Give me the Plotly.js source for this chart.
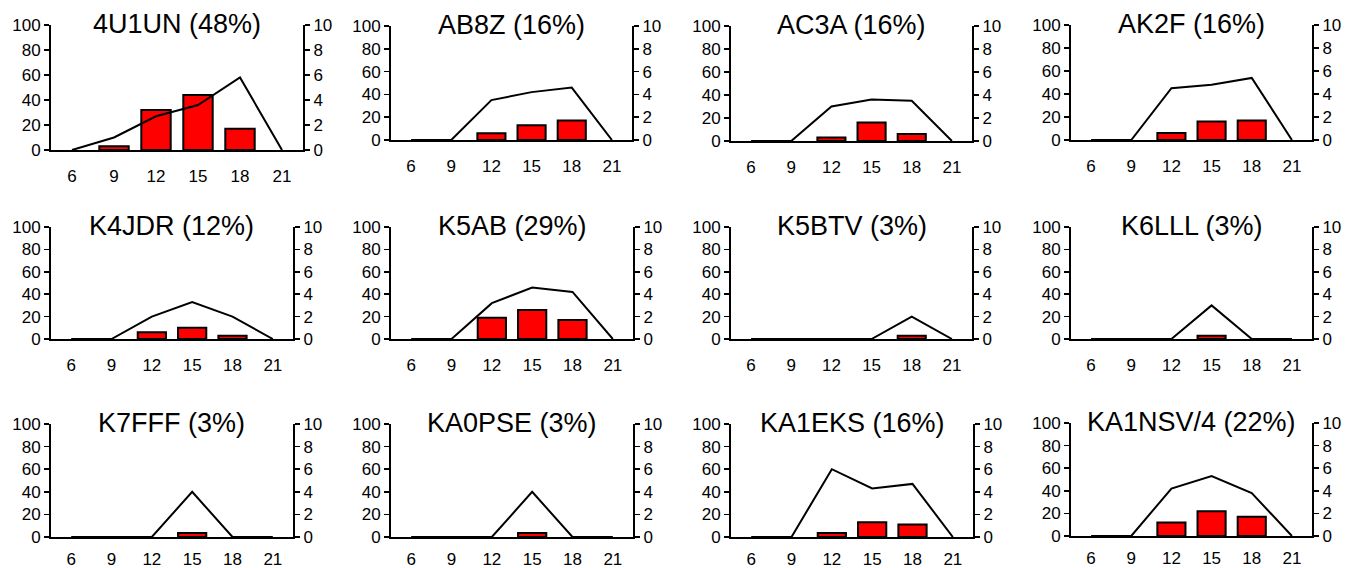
<!DOCTYPE html>
<html>
<head>
<meta charset="utf-8">
<script src="https://cdn.plot.ly/plotly-3.0.1.min.js"></script>
<style>html,body{margin:0;padding:0;background:#fff;}#chart{width:1347px;height:568px;}</style>
</head>
<body>
<div id="chart"></div>
<script>
// ---- data ----
const hours = [6, 9, 12, 15, 18, 21];
const xTickLabels = ['6', '9', '12', '15', '18', '21'];
const leftTicks = [0, 20, 40, 60, 80, 100];
const rightTicks = [0, 2, 4, 6, 8, 10];

const stations = ['4U1UN', 'AB8Z', 'AC3A', 'AK2F', 'K4JDR', 'K5AB', 'K5BTV', 'K6LLL', 'K7FFF', 'KA0PSE', 'KA1EKS', 'KA1NSV/4'];
const stationPercents = [48, 16, 16, 16, 12, 29, 3, 3, 3, 3, 16, 22];

// bar values (left axis, 0-100)
const bars4U1UN  = [0, 3, 32, 44, 17, 0];
const barsAB8Z   = [0, 0, 6, 13, 17, 0];
const barsAC3A   = [0, 0, 3, 16, 6, 0];
const barsAK2F   = [0, 0, 6, 16, 17, 0];
const barsK4JDR  = [0, 0, 6, 10, 3, 0];
const barsK5AB   = [0, 0, 19, 26, 17, 0];
const barsK5BTV  = [0, 0, 0, 0, 3, 0];
const barsK6LLL  = [0, 0, 0, 3, 0, 0];
const barsK7FFF  = [0, 0, 0, 3.5, 0, 0];
const barsKA0PSE = [0, 0, 0, 3.5, 0, 0];
const barsKA1EKS = [0, 0, 3.5, 13, 11, 0];
const barsKA1NSV = [0, 0, 12, 22, 17, 0];

// line values (right axis, 0-10)
const line4U1UN  = [0, 1.0, 2.7, 3.6, 5.8, 0];
const lineAB8Z   = [0, 0, 3.5, 4.2, 4.6, 0];
const lineAC3A   = [0, 0, 3.0, 3.6, 3.5, 0];
const lineAK2F   = [0, 0, 4.5, 4.8, 5.4, 0];
const lineK4JDR  = [0, 0, 2.0, 3.3, 2.0, 0];
const lineK5AB   = [0, 0, 3.2, 4.6, 4.2, 0];
const lineK5BTV  = [0, 0, 0, 0, 2.0, 0];
const lineK6LLL  = [0, 0, 0, 3.0, 0, 0];
const lineK7FFF  = [0, 0, 0, 4.0, 0, 0];
const lineKA0PSE = [0, 0, 0, 4.0, 0, 0];
const lineKA1EKS = [0, 0, 6.0, 4.3, 4.7, 0];
const lineKA1NSV = [0, 0, 4.2, 5.3, 3.8, 0];

const barSeries = [bars4U1UN, barsAB8Z, barsAC3A, barsAK2F, barsK4JDR, barsK5AB, barsK5BTV, barsK6LLL, barsK7FFF, barsKA0PSE, barsKA1EKS, barsKA1NSV];
const lineSeries = [line4U1UN, lineAB8Z, lineAC3A, lineAK2F, lineK4JDR, lineK5AB, lineK5BTV, lineK6LLL, lineK7FFF, lineKA0PSE, lineKA1EKS, lineKA1NSV];

// ---- layout geometry (pixels) ----
const W = 1347, H = 568;
const panelBoxes = [
  [51, 303, 25, 150], [391, 632, 26, 140], [731, 972, 26, 141], [1071, 1312, 25, 140],
  [51, 293, 227, 339], [391, 633, 227, 339], [731, 972, 227, 339], [1071, 1312, 227, 339],
  [51, 293, 424, 537], [391, 633, 424, 537], [731, 973, 424, 537], [1071, 1312, 423, 536]
];

const FONT = 'Liberation Sans, Arial, sans-serif';
const traces = [];
const layout = {
  width: W, height: H,
  margin: {l: 0, r: 0, t: 0, b: 0},
  paper_bgcolor: '#fff', plot_bgcolor: 'rgba(0,0,0,0)',
  showlegend: false,
  font: {family: FONT, color: '#000', size: 17},
  annotations: []
};

stations.forEach((name, i) => {
  const n = i + 1;
  const xName = n === 1 ? 'x' : 'x' + n;
  const yLeftIdx = 2 * n - 1, yRightIdx = 2 * n;
  const yLeft = yLeftIdx === 1 ? 'y' : 'y' + yLeftIdx;
  const yRight = 'y' + yRightIdx;
  const [x0, x1, yt, yb] = panelBoxes[i];
  const xd = [x0 / W, x1 / W];
  const yd = [1 - yb / H, 1 - yt / H];
  const bottomRow = i >= 8;

  traces.push({
    type: 'bar', x: hours, y: barSeries[i].map(v => (v === 0 ? null : v)),
    xaxis: xName, yaxis: yLeft,
    width: 2.1,
    marker: {color: '#ff0000', line: {color: '#000', width: 2}},
    hoverinfo: 'skip'
  });
  traces.push({
    type: 'scatter', mode: 'lines', x: hours, y: lineSeries[i], xaxis: xName, yaxis: yRight,
    line: {color: '#000', width: 2}, hoverinfo: 'skip'
  });

  layout[n === 1 ? 'xaxis' : 'xaxis' + n] = {
    domain: xd, anchor: yLeft, range: [4.5, 22.5],
    tickvals: hours, ticktext: xTickLabels,
    ticks: 'outside', ticklen: bottomRow ? 6 : 10, tickcolor: 'rgba(0,0,0,0)',
    showline: true, linecolor: '#000', linewidth: 2,
    showgrid: false, zeroline: false, fixedrange: true,
    tickfont: {family: FONT, size: 17, color: '#000'}
  };
  layout[yLeftIdx === 1 ? 'yaxis' : 'yaxis' + yLeftIdx] = {
    domain: yd, anchor: xName, range: [0, 100],
    tickvals: leftTicks, ticks: 'outside', ticklen: 5, tickwidth: 1.5, tickcolor: '#000',
    showline: true, linecolor: '#000', linewidth: 2,
    showgrid: false, zeroline: false, fixedrange: true,
    tickfont: {family: FONT, size: 17, color: '#000'}
  };
  layout['yaxis' + yRightIdx] = {
    overlaying: yLeft, anchor: xName, side: 'right', range: [0, 10],
    tickvals: rightTicks, ticks: 'outside', ticklen: 5, tickwidth: 1.5, tickcolor: '#000',
    showline: true, linecolor: '#000', linewidth: 2,
    showgrid: false, zeroline: false, fixedrange: true,
    tickfont: {family: FONT, size: 17, color: '#000'}
  };

  layout.annotations.push({
    text: name + ' (' + stationPercents[i] + '%)',
    xref: 'paper', yref: 'paper',
    x: (x0 + x1) / 2 / W, y: 1 - (yt - 1) / H,
    xanchor: 'center', yanchor: 'middle', showarrow: false,
    font: {family: FONT, size: 27, color: '#000'}
  });
});

Plotly.newPlot('chart', traces, layout, {displayModeBar: false, staticPlot: true});
</script>
</body>
</html>
